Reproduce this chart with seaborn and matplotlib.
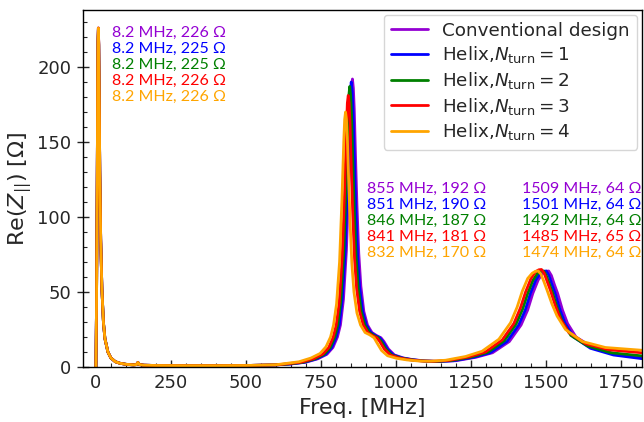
import matplotlib
matplotlib.use("Agg")
import matplotlib.pyplot as plt
from matplotlib.ticker import MultipleLocator, AutoMinorLocator
import numpy as np
import pandas as pd
import seaborn as sns

# ---------------- data ----------------
labels = ["Conventional design",
          r"Helix,$N_{\rm turn} = 1$",
          r"Helix,$N_{\rm turn} = 2$",
          r"Helix,$N_{\rm turn} = 3$",
          r"Helix,$N_{\rm turn} = 4$"]
colors = ["#9400D3", "#0000FF", "#008000", "#FF0000", "#FFA500"]

# shared low-frequency part (0 - 600 MHz)
f_low = [0, 2, 4, 6, 7, 8.2, 9.5, 11, 13, 16, 20, 25, 30, 40, 50, 65, 80, 100,
         125, 135, 140, 145, 160, 200, 300, 400, 500, 600]
z_low_conv = [0, 40, 110, 190, 218, 226, 215, 180, 130, 85, 52, 30, 19, 10, 6, 3.5, 2.5, 1.8,
              1.4, 1.6, 3, 1.6, 1.2, 1.0, 0.9, 0.9, 1.0, 1.4]
z_low_h1 = [0, 40, 110, 189, 217, 225, 214, 180, 130, 85, 52, 30, 19, 10, 6, 3.5, 2.5, 1.8,
            1.4, 1.6, 3, 1.6, 1.2, 1.0, 0.9, 0.9, 1.0, 1.4]
z_low_h2 = [0, 40, 110, 189, 217, 225, 214, 180, 130, 85, 52, 30, 19, 10, 6, 3.5, 2.5, 1.8,
            1.4, 1.6, 3, 1.6, 1.2, 1.0, 0.9, 0.9, 1.0, 1.4]
z_low_h3 = [0, 40, 110, 190, 218, 226, 215, 180, 130, 85, 52, 30, 19, 10, 6, 3.5, 2.5, 1.8,
            1.4, 1.6, 3, 1.6, 1.2, 1.0, 0.9, 0.9, 1.0, 1.4]
z_low_h4 = [0, 40, 110, 190, 218, 226, 215, 180, 130, 85, 52, 30, 19, 10, 6, 3.5, 2.5, 1.8,
            1.4, 1.6, 3, 1.6, 1.2, 1.0, 0.9, 0.9, 1.0, 1.5]

# main resonance (~850 MHz)
f_mid_conv = [650, 700, 740, 770, 790, 805, 815, 825, 835, 843, 849, 852, 855, 858, 861, 865, 870,
              876, 883, 893, 905, 920, 935, 950, 960, 975, 995, 1025, 1060, 1100]
z_mid_conv = [2.0, 3.2, 5.5, 8.5, 13, 20, 28, 45, 78, 125, 168, 186, 192, 186, 172, 142, 108,
              76, 54, 37, 28, 23, 21, 19.5, 17, 12, 8, 6, 4.8, 4.0]
f_mid_h1 = [646, 696, 736, 766, 786, 801, 811, 821, 831, 839, 845, 848, 851, 854, 857, 861, 866,
            872, 879, 889, 901, 916, 931, 946, 956, 971, 991, 1021, 1056, 1096]
z_mid_h1 = [2.0, 3.2, 5.5, 8.5, 13, 20, 28, 45, 77, 124, 166, 184, 190, 184, 170, 141, 107,
            75, 53, 37, 28, 23, 21, 19.5, 17, 12, 8, 6, 4.8, 4.0]
f_mid_h2 = [641, 691, 731, 761, 781, 796, 806, 816, 826, 834, 840, 843, 846, 849, 852, 856, 861,
            867, 874, 884, 896, 911, 926, 941, 951, 966, 986, 1016, 1051, 1091]
z_mid_h2 = [2.0, 3.2, 5.5, 8.5, 13, 20, 28, 44, 76, 122, 164, 181, 187, 181, 168, 138, 105,
            74, 53, 37, 28, 23, 21, 19.5, 17, 12, 8, 6, 4.8, 4.0]
f_mid_h3 = [636, 686, 726, 756, 776, 791, 801, 811, 821, 829, 835, 838, 841, 844, 847, 851, 856,
            862, 869, 879, 891, 906, 921, 936, 946, 961, 981, 1011, 1046, 1086]
z_mid_h3 = [2.1, 3.3, 5.6, 8.6, 13, 20, 28, 43, 74, 118, 159, 176, 181, 176, 162, 134, 102,
            72, 52, 37, 28, 23, 21, 19.5, 17, 12, 8, 6, 4.8, 4.0]
f_mid_h4 = [627, 677, 717, 747, 767, 782, 792, 802, 812, 820, 826, 829, 832, 835, 838, 842, 847,
            853, 860, 870, 882, 897, 912, 927, 937, 952, 972, 1002, 1037, 1077]
z_mid_h4 = [2.2, 3.5, 6, 9, 13.5, 20, 28, 42, 70, 112, 150, 165, 170, 165, 153, 127, 97,
            69, 50, 36, 28, 23, 21.5, 19.5, 16, 11, 7.5, 5.8, 4.7, 4.0]

# second resonance (~1500 MHz)
f_hi_conv = [1150, 1200, 1267, 1322, 1378, 1417, 1439, 1456, 1474, 1489, 1500, 1509, 1518, 1528,
             1539, 1555, 1572, 1600, 1656, 1733, 1830]
z_hi_conv = [3.7, 4.2, 6.5, 9.5, 17, 28, 38, 49, 58, 62.5, 63.8, 64, 61, 55,
             49, 38, 29, 20, 13, 8.5, 6.0]
f_hi_h1 = [1142, 1192, 1259, 1314, 1370, 1409, 1431, 1448, 1466, 1481, 1492, 1501, 1510, 1520,
           1531, 1547, 1564, 1592, 1648, 1725, 1830]
z_hi_h1 = [3.7, 4.2, 6.5, 9.5, 17, 28, 38, 49, 58, 62.5, 63.8, 64, 61, 55,
           49, 38, 29, 20, 12.5, 8, 5.3]
f_hi_h2 = [1133, 1183, 1250, 1305, 1361, 1400, 1422, 1439, 1457, 1472, 1483, 1492, 1501, 1511,
           1522, 1538, 1555, 1583, 1639, 1716, 1830]
z_hi_h2 = [3.7, 4.3, 6.6, 9.7, 17.5, 28.5, 38.5, 49, 58, 62.5, 63.8, 64, 61, 55.5,
           49.5, 39, 30, 21, 14, 9.5, 7.2]
f_hi_h3 = [1126, 1176, 1243, 1298, 1354, 1393, 1415, 1432, 1450, 1465, 1476, 1485, 1494, 1504,
           1515, 1531, 1548, 1576, 1632, 1709, 1830]
z_hi_h3 = [3.8, 4.4, 6.8, 10, 18, 29, 39.5, 50, 59, 63.5, 64.8, 65, 62.5, 57,
           51, 41, 32, 23, 15.5, 11.5, 9.3]
f_hi_h4 = [1115, 1165, 1232, 1287, 1343, 1382, 1404, 1421, 1439, 1454, 1465, 1474, 1483, 1493,
           1504, 1520, 1537, 1565, 1621, 1698, 1830]
z_hi_h4 = [3.9, 4.5, 7, 10.5, 18.5, 29.5, 40, 50.5, 59, 62.5, 63.8, 64, 62, 57,
           51, 42, 34, 25, 17, 13, 11]

# annotation texts
ann_low = ["8.2 MHz, 226 Ω", "8.2 MHz, 225 Ω", "8.2 MHz, 225 Ω", "8.2 MHz, 226 Ω", "8.2 MHz, 226 Ω"]
ann_mid = ["855 MHz, 192 Ω", "851 MHz, 190 Ω", "846 MHz, 187 Ω", "841 MHz, 181 Ω", "832 MHz, 170 Ω"]
ann_hi = ["1509 MHz, 64 Ω", "1501 MHz, 64 Ω", "1492 MHz, 64 Ω", "1485 MHz, 65 Ω", "1474 MHz, 64 Ω"]

# ---------------- assemble long table ----------------
series_f = [(f_low, f_mid_conv, f_hi_conv), (f_low, f_mid_h1, f_hi_h1), (f_low, f_mid_h2, f_hi_h2),
            (f_low, f_mid_h3, f_hi_h3), (f_low, f_mid_h4, f_hi_h4)]
series_z = [(z_low_conv, z_mid_conv, z_hi_conv), (z_low_h1, z_mid_h1, z_hi_h1),
            (z_low_h2, z_mid_h2, z_hi_h2), (z_low_h3, z_mid_h3, z_hi_h3),
            (z_low_h4, z_mid_h4, z_hi_h4)]
frames = []
for lab, fs, zs in zip(labels, series_f, series_z):
    f = np.concatenate([np.asarray(a, float) for a in fs])
    z = np.concatenate([np.asarray(a, float) for a in zs])
    frames.append(pd.DataFrame({"f": f, "z": z, "series": lab}))
df = pd.concat(frames, ignore_index=True)

# ---------------- plot ----------------
sns.set_style("ticks")
plt.rcParams["font.family"] = ["DejaVu Sans"]
plt.rcParams["mathtext.fontset"] = "dejavusans"

fig = plt.figure(figsize=(6.44, 4.22), dpi=100)
ax = fig.add_axes([83 / 644, 55 / 422, 559 / 644, 357 / 422])

sns.lineplot(data=df, x="f", y="z", hue="series", hue_order=labels, palette=colors,
             sort=False, estimator=None, linewidth=2.0, ax=ax)

ax.set_xlim(-43, 1820)
ax.set_ylim(0, 238)
ax.xaxis.set_major_locator(MultipleLocator(250))
ax.xaxis.set_minor_locator(AutoMinorLocator(5))
ax.yaxis.set_major_locator(MultipleLocator(50))
ax.yaxis.set_minor_locator(AutoMinorLocator(5))
ax.tick_params(axis="x", which="major", direction="in", length=5, width=1, labelsize=13, pad=5)
ax.tick_params(axis="x", which="minor", direction="in", length=3, width=0.8)
ax.tick_params(axis="y", which="major", direction="inout", length=9, width=1, labelsize=13, pad=4)
ax.tick_params(axis="y", which="minor", direction="in", length=3, width=0.8)
for s in ax.spines.values():
    s.set_visible(True)
    s.set_color("black")
    s.set_linewidth(1.0)

ax.set_xlabel("Freq. [MHz]", fontsize=16, labelpad=4)
ax.set_ylabel(r"Re($Z_{||}$) [Ω]", fontsize=16, labelpad=2)

handles, labs = ax.get_legend_handles_labels()
leg = ax.legend(handles, labs, loc="upper right", fontsize=13.2, borderaxespad=0.25,
                labelspacing=0.25, handlelength=2.0, frameon=True)
for h in leg.get_lines():
    h.set_linewidth(2.0)

afont = ["Lato", "Open Sans", "DejaVu Sans"]
y_low = [222.5, 211.9, 201.3, 190.8, 180.2]
y_pk = [118.7, 108.0, 97.3, 86.7, 76.0]
for i in range(5):
    ax.text(53, y_low[i], ann_low[i], color=colors[i], fontsize=11.5, family=afont,
            ha="left", va="center")
    ax.text(903, y_pk[i], ann_mid[i], color=colors[i], fontsize=11.5, family=afont,
            ha="left", va="center")
    ax.text(1419, y_pk[i], ann_hi[i], color=colors[i], fontsize=11.5, family=afont,
            ha="left", va="center")

fig.savefig("out.png", dpi=100)
